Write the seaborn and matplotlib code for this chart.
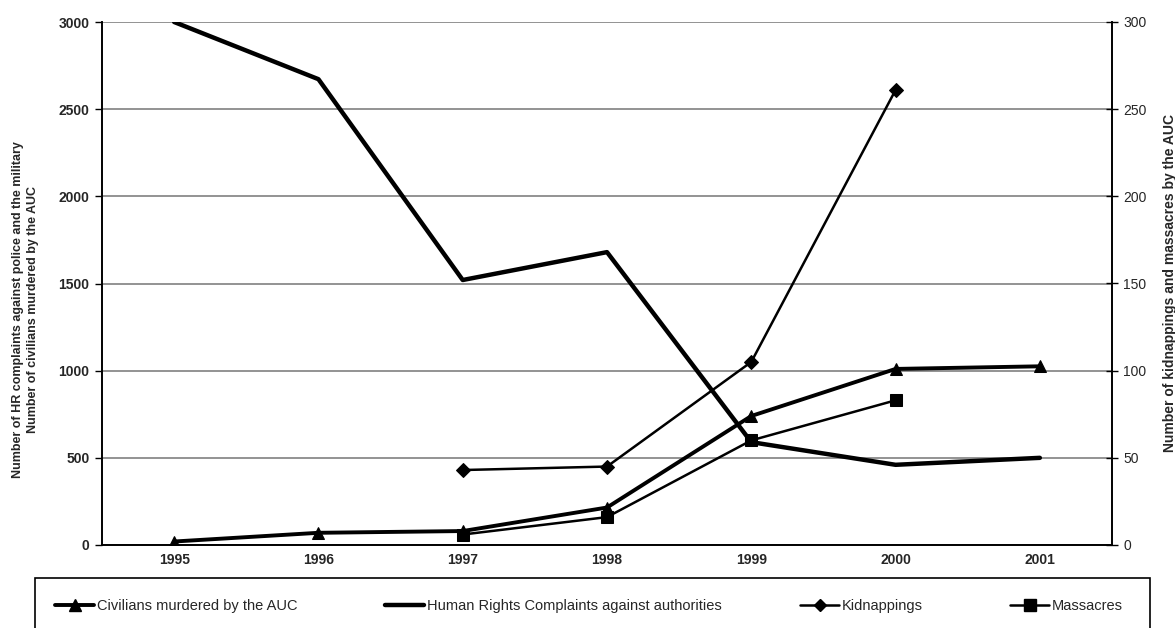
import matplotlib
matplotlib.use("Agg")
import matplotlib.pyplot as plt
import seaborn as sns
import pandas as pd
import numpy as np
from matplotlib.lines import Line2D
from matplotlib.patches import Rectangle

sns.set_theme(style="white")
plt.rcParams['font.family'] = ['Liberation Sans', 'DejaVu Sans']

years = ["1995", "1996", "1997", "1998", "1999", "2000", "2001"]
civilians = [20, 70, 80, 215, 740, 1010, 1025]
hr_complaints = [3000, 2672, 1520, 1680, 590, 460, 500]
kidnappings = [np.nan, np.nan, 43, 45, 105, 261, np.nan]
massacres = [np.nan, np.nan, 6, 16, 60, 83, np.nan]

left_ticks = [0, 500, 1000, 1500, 2000, 2500, 3000]
right_ticks = [0, 50, 100, 150, 200, 250, 300]

df = pd.DataFrame({
    "pos": np.arange(len(years)),
    "year": years,
    "civ": civilians,
    "hr": hr_complaints,
    "kid": kidnappings,
    "mas": massacres,
})

W, H = 1175, 628
fig = plt.figure(figsize=(W / 100, H / 100), dpi=100)
L, R, T, B = 102, 1112, 22, 545
ax = fig.add_axes([L / W, 1 - B / H, (R - L) / W, (B - T) / H])
ax2 = ax.twinx()

ax.set_ylim(0, 3000)
ax2.set_ylim(0, 300)
ax.set_xlim(-0.5, len(years) - 0.5)
ax.set_yticks(left_ticks)
ax2.set_yticks(right_ticks)
ax.yaxis.grid(True, color="#808080", linewidth=1.2)
ax.set_axisbelow(True)

sns.lineplot(data=df, x="pos", y="hr", ax=ax, color="black", linewidth=3.2,
             legend=False, zorder=3)
sns.lineplot(data=df, x="pos", y="civ", ax=ax, color="black", linewidth=2.8,
             marker="^", markersize=9, markeredgecolor="black", legend=False, zorder=4)
sns.lineplot(data=df.dropna(subset=["kid"]), x="pos", y="kid", ax=ax2, color="black",
             linewidth=1.8, marker="D", markersize=7, markeredgecolor="black",
             legend=False, zorder=4)
sns.lineplot(data=df.dropna(subset=["mas"]), x="pos", y="mas", ax=ax2, color="black",
             linewidth=1.8, marker="s", markersize=9, markeredgecolor="black",
             legend=False, zorder=4)

ax.set_xticks(df["pos"])
ax.set_xticklabels(years, fontsize=10, fontweight="bold")
ax.tick_params(axis="x", length=0, pad=6)
ax.set_xlabel("")
ax.set_yticklabels([str(t) for t in left_ticks], fontsize=10, fontweight="bold")
ax2.set_yticklabels([str(t) for t in right_ticks], fontsize=10)
ax.tick_params(axis="y", direction="out", length=5, width=1, color="black", pad=4)
ax2.tick_params(axis="y", direction="inout", length=8, width=1, color="black", pad=4)

for a in (ax, ax2):
    a.spines["top"].set_visible(False)
    for s in ("left", "right", "bottom"):
        a.spines[s].set_color("black")
        a.spines[s].set_linewidth(1.2)

ax.set_ylabel("Number of HR complaints against police and the military\nNumber of civilians murdered by the AUC",
              fontsize=9, fontweight="bold", linespacing=1.35)
ax.yaxis.set_label_coords(-0.062, 0.45)
ax2.set_ylabel("Number of kidnappings and massacres by the AUC",
               fontsize=10, fontweight="bold", labelpad=12)

# legend box
rect = Rectangle((35 / W, 1 - 645 / H), (1150 - 35) / W, (645 - 578) / H,
                 transform=fig.transFigure, facecolor="white", edgecolor="black",
                 linewidth=1.2)
fig.patches.append(rect)

entries = [
    ("Civilians murdered by the AUC", dict(marker="^", markersize=8, linewidth=2.8), 55),
    ("Human Rights Complaints against authorities", dict(linewidth=3.2), 385),
    ("Kidnappings", dict(marker="D", markersize=6, linewidth=1.8), 800),
    ("Massacres", dict(marker="s", markersize=8, linewidth=1.8), 1010),
]
for label, style, x0 in entries:
    h = Line2D([], [], color="black", markeredgecolor="black", **style)
    fig.legend([h], [label], loc="center left",
               bbox_to_anchor=(x0 / W, 1 - 606 / H), frameon=False,
               handlelength=2.7, handletextpad=0.15, borderpad=0, borderaxespad=0,
               prop={"size": 10.5})

fig.savefig("out.png", dpi=100)
